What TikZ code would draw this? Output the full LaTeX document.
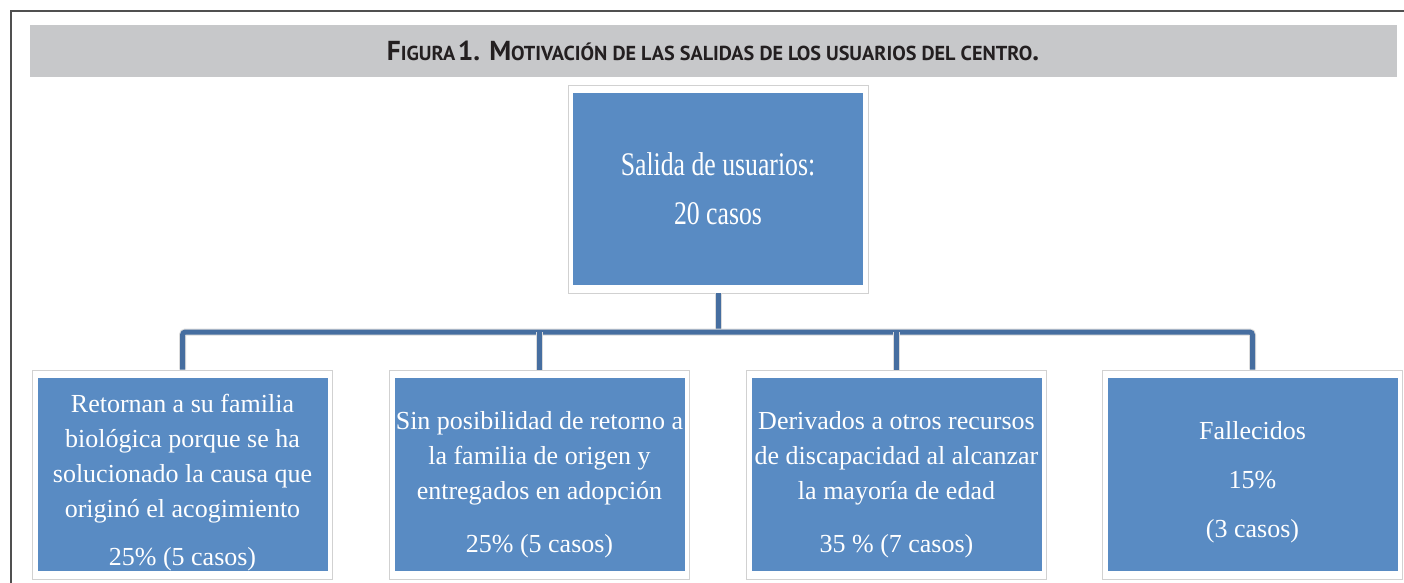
\documentclass[tikz,border=0pt]{standalone}
\usepackage{fontspec}
\setmainfont{Liberation Serif}
\newfontfamily\titlefont{PT Sans}
\newfontfamily\topfont[FakeStretch=0.78]{Liberation Serif}
\definecolor{boxblue}{RGB}{89,139,195}
\definecolor{connblue}{RGB}{70,110,160}
\definecolor{bandgray}{RGB}{199,200,202}
\definecolor{titlegray}{RGB}{35,31,32}
\definecolor{framegray}{RGB}{80,80,80}
\newcommand\TB[1]{{\fontsize{27.4}{27.4}\selectfont #1}}
\newcommand\TS[1]{{\fontsize{20.2}{20.2}\selectfont #1}}
\newcommand\lift[1]{\rule{0pt}{#1}}
\begin{document}
\begin{tikzpicture}[x=1pt,y=-1pt,
  ubox/.style={fill=white, draw=black!18, line width=0.6pt, inner sep=0pt,
    align=center, text=white,
    path picture={\fill[boxblue]
      ([shift={(5pt,8pt)}]path picture bounding box.south west) rectangle
      ([shift={(-5pt,-8pt)}]path picture bounding box.north east);}},
  lowbox/.style={ubox, minimum width=300pt, minimum height=209pt,
    font=\fontsize{26}{35}\selectfont},
  conn/.style={draw=connblue, line width=5pt, rounded corners=3pt,
    preaction={draw=black!14, line width=7pt}},
  titletext/.style={text=titlegray, font=\titlefont\bfseries, anchor=base}
]
\useasboundingbox (0,0) rectangle (1404,582);
\fill[white] (0,0) rectangle (1404,582);
% frame and title band
\draw[framegray, line width=1.3pt] (11,583) -- (11,11) -- (1405,11);
\fill[bandgray] (30,25) rectangle (1397,77);
\node[titletext] (title) at (713,60)
  {\TB{F}\TS{IGURA} \TB{1. M}\TS{OTIVACIÓN DE LAS SALIDAS DE LOS USUARIOS DEL CENTRO}\TB{.}};
% top box
\node[ubox, minimum width=300pt, minimum height=208pt,
      font=\topfont\fontsize{33}{49}\selectfont] (top) at (718,189)
  {Salida de usuarios:\\20 casos};
% bottom boxes
\node[lowbox] (b1) at (182.5,474.5)
  {\lift{34pt}Retornan a su familia\\biológica porque se ha\\solucionado la causa que\\originó el acogimiento\\[13pt]25\% (5 casos)};
\node[lowbox] (b2) at (539.5,474.5)
  {\lift{38pt}Sin posibilidad de retorno a\\la familia de origen y\\entregados en adopción\\[18pt]25\% (5 casos)};
\node[lowbox] (b3) at (896.5,474.5)
  {\lift{38pt}Derivados a otros recursos\\de discapacidad al alcanzar\\la mayoría de edad\\[18pt]35 \% (7 casos)};
\node[lowbox, font=\fontsize{26}{49}\selectfont] (b4) at (1252.5,474.5)
  {\lift{34pt}Fallecidos\\15\%\\(3 casos)};
% connectors
\coordinate (bus) at (718,332);
\draw[conn] (top.south) -- (bus);
\draw[conn] (b1.north) |- (bus) -| (b4.north);
\draw[conn] (b2.north) -- (b2.north |- bus);
\draw[conn] (b3.north) -- (b3.north |- bus);
\end{tikzpicture}
\end{document}
